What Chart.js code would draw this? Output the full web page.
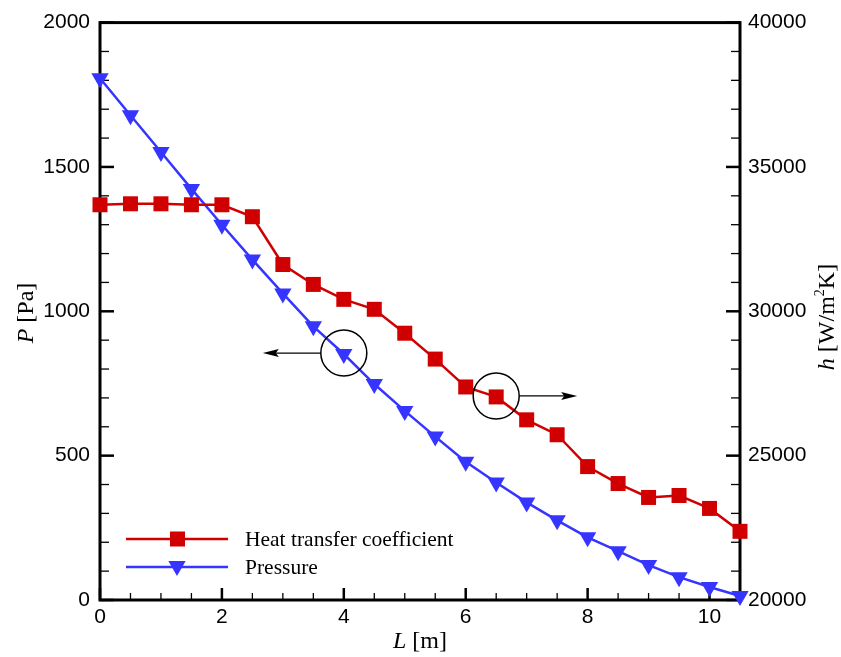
<!DOCTYPE html>
<html>
<head>
<meta charset="utf-8">
<script src="https://cdn.jsdelivr.net/npm/chart.js@4.4.1/dist/chart.umd.min.js"></script>
<style>
  html, body { margin: 0; padding: 0; background: #fff; }
</style>
</head>
<body>
<canvas id="chart" width="841" height="657"></canvas>
<script>
const lengths = [0, 0.5, 1, 1.5, 2, 2.5, 3, 3.5, 4, 4.5, 5, 5.5, 6, 6.5, 7, 7.5, 8, 8.5, 9, 9.5, 10, 10.5];
const pressure = [1807, 1679, 1552, 1424, 1300, 1179, 1062, 948, 852, 748, 655, 566, 479, 407, 338, 276, 217, 169, 121, 79, 45, 14];
const heatCoef = [33690, 33724, 33724, 33690, 33690, 33276, 31620, 30931, 30414, 30069, 29241, 28345, 27379, 27034, 26241, 25724, 24621, 24034, 23552, 23620, 23172, 22379];

const xTicks = [0, 2, 4, 6, 8, 10];
const pTicks = [0, 500, 1000, 1500, 2000];
const hTicks = [20000, 25000, 30000, 35000, 40000];

const seriesNames = ['Heat transfer coefficient', 'Pressure'];
const red = '#d00000';
const blue = '#3535ff';

// circled points with arrows pointing to their axis
const callouts = [
  { dataset: 1, index: 8, dir: -1 },
  { dataset: 0, index: 13, dir: 1 }
];

const tickFont = { family: 'Liberation Sans, Arial, sans-serif', size: 21 };
const serif = 'Liberation Serif, Times New Roman, serif';
const plain = v => String(v);

function drawTri(ctx, x, y, r) {
  ctx.beginPath();
  ctx.moveTo(x, y + r);
  ctx.lineTo(x - Math.sin(Math.PI / 3) * r, y - r / 2);
  ctx.lineTo(x + Math.sin(Math.PI / 3) * r, y - r / 2);
  ctx.closePath();
  ctx.fill();
}

function drawMixed(ctx, parts, cx, cy, rot) {
  ctx.save();
  ctx.translate(cx, cy);
  ctx.rotate(rot);
  let w = 0;
  parts.forEach(p => { ctx.font = p.font; w += ctx.measureText(p.text).width; });
  let x = -w / 2;
  ctx.fillStyle = '#000';
  ctx.textBaseline = 'alphabetic';
  parts.forEach(p => {
    ctx.font = p.font;
    ctx.fillText(p.text, x, p.dy || 0);
    x += ctx.measureText(p.text).width;
  });
  ctx.restore();
}

const framePlugin = {
  id: 'frame',
  beforeDatasetsDraw(chart) {
    const { ctx, chartArea: a, scales } = chart;
    ctx.save();
    ctx.strokeStyle = '#000';
    // tick marks pointing inward
    const xs = scales.x, yl = scales.y, yr = scales.y2;
    for (let v = xs.min; v <= xs.max + 1e-9; v += 0.5) {
      const major = Math.abs(v / 2 - Math.round(v / 2)) < 1e-9;
      const px = xs.getPixelForValue(v);
      ctx.lineWidth = major ? 2.5 : 1.3;
      ctx.beginPath();
      ctx.moveTo(px, a.bottom);
      ctx.lineTo(px, a.bottom - (major ? 12 : 7));
      ctx.stroke();
    }
    for (let v = yl.min; v <= yl.max; v += 100) {
      const major = v % 500 === 0;
      const py = yl.getPixelForValue(v);
      ctx.lineWidth = major ? 2.5 : 1.3;
      ctx.beginPath();
      ctx.moveTo(a.left, py);
      ctx.lineTo(a.left + (major ? 14 : 9), py);
      ctx.stroke();
    }
    for (let v = yr.min; v <= yr.max; v += 1000) {
      const major = v % 5000 === 0;
      const py = yr.getPixelForValue(v);
      ctx.lineWidth = major ? 2.5 : 1.3;
      ctx.beginPath();
      ctx.moveTo(a.right, py);
      ctx.lineTo(a.right - (major ? 14 : 9), py);
      ctx.stroke();
    }
    ctx.lineWidth = 3;
    ctx.strokeRect(a.left, a.top, a.right - a.left, a.bottom - a.top);
    ctx.restore();
  },
  afterDraw(chart) {
    const { ctx, chartArea: a } = chart;
    ctx.save();
    // callouts
    callouts.forEach(c => {
      const meta = chart.getDatasetMeta(c.dataset);
      const pt = meta.data[c.index];
      const r = 23;
      ctx.strokeStyle = '#000';
      ctx.lineWidth = 1.5;
      ctx.beginPath();
      ctx.arc(pt.x, pt.y - 1, r, 0, Math.PI * 2);
      ctx.stroke();
      const x0 = pt.x + c.dir * r;
      const x1 = x0 + c.dir * 58;
      ctx.lineWidth = 1.2;
      ctx.beginPath();
      ctx.moveTo(x0, pt.y - 1);
      ctx.lineTo(x1 - c.dir * 12, pt.y - 1);
      ctx.stroke();
      ctx.fillStyle = '#000';
      ctx.beginPath();
      ctx.moveTo(x1, pt.y - 1);
      ctx.lineTo(x1 - c.dir * 16, pt.y - 5);
      ctx.lineTo(x1 - c.dir * 13, pt.y - 1);
      ctx.lineTo(x1 - c.dir * 16, pt.y + 3);
      ctx.closePath();
      ctx.fill();
    });
    // legend
    const rows = [{ y: 539, color: red, marker: 'rect' }, { y: 567, color: blue, marker: 'tri' }];
    rows.forEach((row, i) => {
      ctx.strokeStyle = row.color;
      ctx.lineWidth = 2.5;
      ctx.beginPath();
      ctx.moveTo(126, row.y);
      ctx.lineTo(228, row.y);
      ctx.stroke();
      ctx.fillStyle = row.color;
      if (row.marker === 'rect') ctx.fillRect(170, row.y - 7.5, 15, 15);
      else drawTri(ctx, 177, row.y - 1, 10);
      ctx.fillStyle = '#000';
      ctx.font = '21.5px ' + serif;
      ctx.textBaseline = 'middle';
      ctx.fillText(seriesNames[i], 245, row.y + 1);
    });
    // axis titles
    drawMixed(ctx, [
      { text: 'L', font: 'italic 24px ' + serif },
      { text: ' [m]', font: '24px ' + serif }
    ], (a.left + a.right) / 2, 648, 0);
    drawMixed(ctx, [
      { text: 'P', font: 'italic 24px ' + serif },
      { text: ' [Pa]', font: '24px ' + serif }
    ], 33, 313, -Math.PI / 2);
    drawMixed(ctx, [
      { text: 'h', font: 'italic 24px ' + serif },
      { text: ' [W/m', font: '24px ' + serif },
      { text: '2', font: '14px ' + serif, dy: -10 },
      { text: 'K]', font: '24px ' + serif }
    ], 834, 317, -Math.PI / 2);
    ctx.restore();
  }
};

const points = arr => lengths.map((x, i) => ({ x: x, y: arr[i] }));

new Chart(document.getElementById('chart').getContext('2d'), {
  type: 'line',
  data: {
    datasets: [{
      label: seriesNames[0],
      data: points(heatCoef),
      yAxisID: 'y2',
      borderColor: red,
      backgroundColor: red,
      borderWidth: 2.5,
      pointStyle: 'rect',
      pointRadius: 10.6,
      pointBorderWidth: 0,
      clip: false
    }, {
      label: seriesNames[1],
      data: points(pressure),
      yAxisID: 'y',
      borderColor: blue,
      backgroundColor: blue,
      borderWidth: 2.5,
      pointStyle: 'triangle',
      rotation: 180,
      pointRadius: 10,
      pointBorderWidth: 0,
      clip: false
    }]
  },
  options: {
    responsive: false,
    animation: false,
    devicePixelRatio: 1,
    layout: { padding: { top: 20, left: 0, right: 0, bottom: 0 } },
    plugins: { legend: { display: false }, tooltip: { enabled: false } },
    scales: {
      x: {
        type: 'linear', min: 0, max: 10.5,
        afterFit: s => { s.height = 57; },
        afterBuildTicks: s => { s.ticks = xTicks.map(v => ({ value: v })); },
        grid: { display: false, drawTicks: false },
        border: { display: false },
        ticks: { font: tickFont, color: '#000', padding: 5, maxRotation: 0, callback: plain }
      },
      y: {
        position: 'left', min: 0, max: 2000,
        afterFit: s => { s.width = 100; },
        afterBuildTicks: s => { s.ticks = pTicks.map(v => ({ value: v })); },
        grid: { display: false, drawTicks: false },
        border: { display: false },
        ticks: { font: tickFont, color: '#000', padding: 10, callback: plain }
      },
      y2: {
        position: 'right', min: 20000, max: 40000,
        afterFit: s => { s.width = 101; },
        afterBuildTicks: s => { s.ticks = hTicks.map(v => ({ value: v })); },
        grid: { display: false, drawTicks: false },
        border: { display: false },
        ticks: { font: tickFont, color: '#000', padding: 8, callback: plain }
      }
    }
  },
  plugins: [framePlugin]
});
</script>
</body>
</html>
